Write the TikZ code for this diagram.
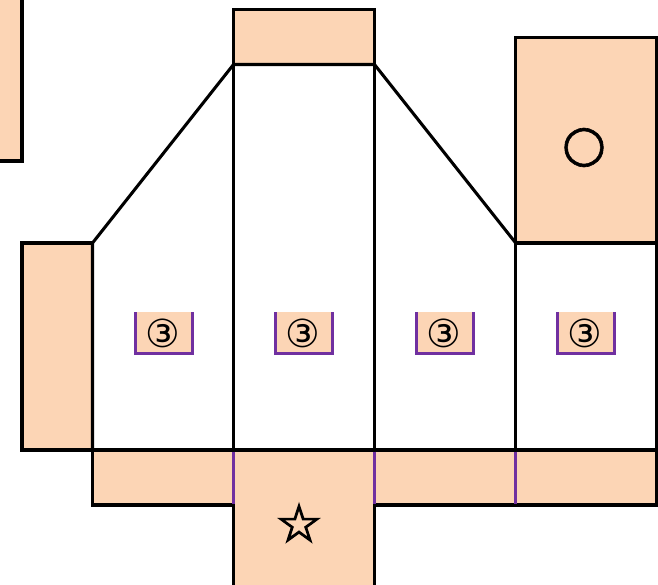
\documentclass[tikz,border=0pt]{standalone}
\usepackage{fontspec}
\setmainfont{DejaVu Sans}
\newfontfamily\heavysym[FakeBold=2.5]{DejaVu Sans}
\newfontfamily\midsym[FakeBold=1.2]{DejaVu Sans}
\definecolor{tabfill}{HTML}{FCD5B5}
\definecolor{foldline}{HTML}{7030A0}
\tikzset{
  cut/.style={draw=black, line width=2.3pt, line join=miter},
  flap/.style={cut, fill=tabfill},
  fold/.style={draw=foldline, line width=2.25pt},
  mark3/.style={inner sep=0pt, font=\fontsize{29}{29}\selectfont},
}
\begin{document}
\begin{tikzpicture}[x=0.75pt, y=-0.75pt]
    \useasboundingbox (0, 0) rectangle (658, 585);
    % flaps
    \path [flap] (-5, -5) rectangle (22, 161);
    \path [flap] (233.5, 9.5) rectangle (374.5, 64.5);
    \path [flap] (515.7, 37.3) rectangle (656.7, 243);
    \path [flap] (22, 243) rectangle (92.5, 450);
    \path [flap] (92.5, 450) rectangle (656.7, 505);
    \path [flap] (233.5, 450) rectangle (374.5, 590);
    % body
    \draw [cut] (92.5, 450) -- (92.5, 243) -- (233.5, 64.5) -- (374.5, 64.5) -- (515.7, 243) -- (656.7, 243) -- (656.7, 450);
    \draw [cut] (233.5, 64.5) -- (233.5, 450);
    \draw [cut] (374.5, 64.5) -- (374.5, 450);
    \draw [cut] (515.7, 243) -- (515.7, 450);
    % folds
    \draw [fold] (233.5, 451.5) -- (233.5, 503.5);
    \draw [fold] (374.5, 451.5) -- (374.5, 503.5);
    \draw [fold] (515.7, 451.5) -- (515.7, 503.5);
    % numbered slots
    \foreach \x/\name in {135.5/one, 275.5/two, 416.5/three, 557.5/four} {
      \fill [tabfill] (\x, 312) rectangle (\x + 57, 353);
      \draw [fold] (\x, 312) -- (\x, 353.2) -- (\x + 57, 353.2) -- (\x + 57, 312);
      \node [mark3] (\name) at (\x + 27, 333) {③};
    }
    % symbols
    \node [inner sep=0pt, font=\midsym\fontsize{38}{38}\selectfont] (circ) at (584, 147.5) {○};
    \node [inner sep=0pt, font=\heavysym\fontsize{39}{39}\selectfont] (star) at (299, 523) {☆};
\end{tikzpicture}
\end{document}
